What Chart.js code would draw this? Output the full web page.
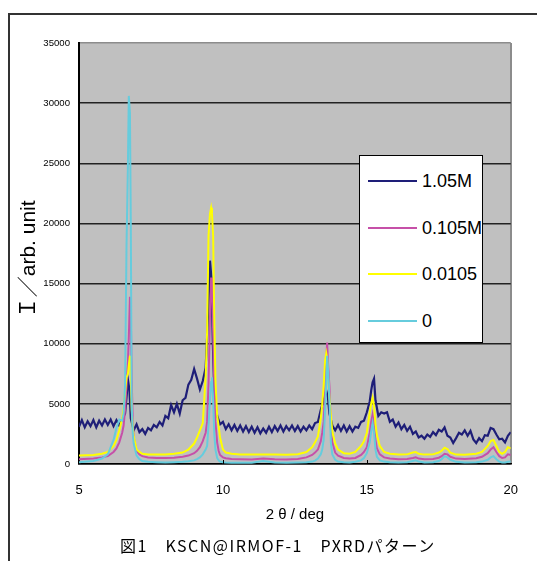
<!DOCTYPE html>
<html lang="ja">
<head>
<meta charset="utf-8">
<title>KSCN@IRMOF-1 PXRD</title>
<script src="https://cdn.jsdelivr.net/npm/chart.js@4/dist/chart.umd.min.js"></script>
<style>
  html, body { margin: 0; padding: 0; background: #fff; overflow: hidden; }
  #wrap { position: relative; width: 537px; height: 561px; overflow: hidden; }
  #frame { position: absolute; left: 8px; top: 13px; width: 700px; height: 700px; border: 2px solid #333; }
  #pxrdChart { position: absolute; left: 0; top: 0; }
  #legend { position: absolute; left: 359px; top: 155px; width: 124px; height: 188px; box-sizing: border-box;
            background: #fff; border: 1px solid #000; }
  .item { position: absolute; left: 8px; height: 20px; }
  .swatch { position: absolute; left: 0; top: 9px; width: 49px; height: 2px; }
  .label { position: absolute; left: 54px; top: 0; line-height: 20px; white-space: nowrap; color: #000;
           font: 18px 'Liberation Sans', Arial, sans-serif; }
  #caption { position: absolute; left: 120px; top: 533px; line-height: 22px; white-space: nowrap; color: #000;
             font: 16px 'Noto Sans CJK JP', sans-serif; letter-spacing: 1.5px; }
</style>
</head>
<body>
<div id="wrap">
  <div id="frame"></div>
  <canvas id="pxrdChart" width="537" height="561"></canvas>
  <div id="legend"></div>
  <div id="caption">図1　KSCN@IRMOF-1　PXRDパターン</div>
</div>
<script>
// series names (legend order)
const seriesLabels = ['1.05M', '0.105M', '0.0105', '0'];

// axis ranges
const xMin = 5, xMax = 20, xStep = 5;
const yMin = 0, yMax = 35000, yStep = 5000;

// 1.05M : noisy scan
const thetaNavy = [
  5.0, 5.1, 5.2, 5.3, 5.4, 5.5, 5.6, 5.7, 5.8, 5.9,
  6.0, 6.1, 6.2, 6.3, 6.4, 6.5, 6.6, 6.65, 6.7, 6.75,
  6.8, 6.9, 7.0, 7.1, 7.2, 7.3, 7.4, 7.5, 7.6, 7.7,
  7.8, 7.9, 8.0, 8.1, 8.2, 8.3, 8.4, 8.5, 8.6, 8.7,
  8.8, 8.9, 9.0, 9.1, 9.2, 9.3, 9.4, 9.45, 9.5, 9.55,
  9.6, 9.65, 9.7, 9.8, 9.9, 10.0, 10.1, 10.2, 10.3, 10.4,
  10.5, 10.6, 10.7, 10.8, 10.9, 11.0, 11.1, 11.2, 11.3, 11.4,
  11.5, 11.6, 11.7, 11.8, 11.9, 12.0, 12.1, 12.2, 12.3, 12.4,
  12.5, 12.6, 12.7, 12.8, 12.9, 13.0, 13.1, 13.2, 13.3, 13.4,
  13.5, 13.55, 13.6, 13.65, 13.7, 13.8, 13.9, 14.0, 14.1, 14.2,
  14.3, 14.4, 14.5, 14.6, 14.7, 14.8, 14.9, 15.0, 15.1, 15.15,
  15.2, 15.25, 15.3, 15.4, 15.5, 15.6, 15.7, 15.8, 15.9, 16.0,
  16.1, 16.2, 16.3, 16.4, 16.5, 16.6, 16.7, 16.8, 16.9, 17.0,
  17.1, 17.2, 17.3, 17.4, 17.5, 17.6, 17.7, 17.8, 17.9, 18.0,
  18.1, 18.2, 18.3, 18.4, 18.5, 18.6, 18.7, 18.8, 18.9, 19.0,
  19.1, 19.2, 19.3, 19.4, 19.5, 19.6, 19.7, 19.8, 19.9, 20.0
];
const intNavy = [
  3100, 3650, 3050, 3550, 3150, 3650, 3050, 3600, 3200, 3700,
  3250, 3700, 3150, 3650, 3200, 3700, 4200, 5500, 7000, 6200,
  3800, 2800, 3300, 2650, 2900, 2500, 3000, 2800, 3250, 3050,
  3500, 3200, 4000, 3800, 4900, 4300, 5000, 4200, 5300, 5500,
  6600, 7000, 7900, 7100, 6200, 6900, 8000, 10500, 13500, 16900,
  15500, 10000, 6000, 4000, 3300, 3500, 2900, 3300, 2800, 3250,
  2750, 3200, 2700, 3150, 2650, 3100, 2600, 3050, 2550, 2950,
  2600, 3100, 2650, 3150, 2750, 3200, 2700, 3150, 2800, 3200,
  2750, 3150, 2700, 3100, 2800, 3200, 2900, 3400, 3500, 4500,
  5300, 5800, 6000, 5500, 4200, 3200, 2800, 3250, 2750, 3200,
  2700, 3150, 2700, 3100, 3000, 3500, 3600, 4300, 5200, 6100,
  6800, 7100, 5300, 4000, 4300, 4200, 4300, 3500, 3700, 3100,
  3450, 2900, 3250, 2750, 3100, 2500, 2700, 2200, 2350, 2100,
  2450, 2250, 2650, 2400, 2850, 2700, 3050, 2350, 2200, 1750,
  2150, 2600, 2450, 2800, 2350, 2750, 2050, 1750, 2150, 1900,
  2400, 2350, 3000, 2900, 2450, 2050, 2100, 1800, 2350, 2650
];

// 0.105M, 0.0105, 0 : smoother scans sharing one angle grid
const thetaPeaks = [
  5.0, 5.5, 5.8, 6.0, 6.2, 6.3, 6.4, 6.5, 6.55, 6.6,
  6.65, 6.7, 6.73, 6.77, 6.8, 6.83, 6.87, 6.9, 7.0, 7.1,
  7.2, 7.4, 7.7, 8.0, 8.3, 8.6, 8.8, 9.0, 9.1, 9.2,
  9.3, 9.4, 9.45, 9.5, 9.55, 9.59, 9.62, 9.66, 9.7, 9.74,
  9.8, 9.85, 9.9, 10.0, 10.1, 10.3, 10.6, 11.0, 11.4, 11.8,
  12.2, 12.6, 12.9, 13.1, 13.2, 13.3, 13.4, 13.45, 13.5, 13.55,
  13.59, 13.62, 13.66, 13.7, 13.75, 13.8, 13.9, 14.0, 14.2, 14.4,
  14.6, 14.8, 14.9, 15.0, 15.1, 15.15, 15.2, 15.25, 15.3, 15.35,
  15.45, 15.6, 15.8, 16.1, 16.4, 16.6, 16.7, 16.8, 17.0, 17.3,
  17.5, 17.6, 17.7, 17.8, 17.9, 18.1, 18.4, 18.8, 19.0, 19.2,
  19.3, 19.4, 19.5, 19.6, 19.7, 19.8, 19.9, 20.0
];
const intMagenta = [
  400, 450, 550, 650, 1000, 1300, 1800, 2600, 3200, 4500,
  6500, 8500, 10500, 13900, 12500, 7000, 3500, 2200, 1100, 800,
  650, 550, 500, 500, 520, 600, 700, 900, 1100, 1400,
  1900, 2600, 3500, 6700, 12200, 15500, 15000, 11000, 6500, 3500,
  1800, 1100, 750, 550, 480, 420, 400, 380, 450, 400,
  380, 420, 550, 750, 950, 1200, 1900, 2600, 3500, 6000,
  8500, 10100, 8000, 6500, 3000, 1800, 950, 700, 500, 450,
  500, 750, 1000, 1400, 2600, 3500, 4100, 3300, 2000, 1300,
  800, 550, 450, 400, 420, 500, 550, 450, 400, 420,
  520, 650, 850, 800, 600, 450, 420, 480, 600, 900,
  1200, 1400, 1000, 650, 500, 550, 800, 750
];
const intYellow = [
  700, 750, 850, 1000, 1500, 2000, 2800, 3800, 4600, 6000,
  7200, 7500, 8200, 9000, 7500, 4500, 3000, 2300, 1200, 1000,
  850, 800, 800, 800, 850, 950, 1200, 1700, 2200, 2800,
  3400, 7200, 11000, 19000, 20800, 21300, 20800, 19000, 12000, 7000,
  4000, 3200, 2200, 1200, 950, 850, 800, 780, 800, 780,
  760, 820, 1000, 1400, 1800, 2300, 3800, 5000, 6500, 8600,
  9200, 8800, 7000, 5500, 4000, 2700, 1700, 1200, 900, 850,
  1000, 1500, 1900, 2600, 4300, 5000, 5500, 4800, 3300, 2400,
  1500, 1000, 850, 780, 800, 950, 1000, 850, 780, 800,
  950, 1100, 1350, 1250, 950, 780, 760, 850, 1000, 1500,
  1900, 2000, 1500, 1000, 850, 1000, 1400, 1300
];
const intCyan = [
  150, 250, 450, 800, 2000, 3000, 3700, 3600, 4200, 6500,
  18000, 25000, 30600, 29200, 20000, 5000, 2500, 1700, 700, 400,
  250, 180, 150, 130, 150, 180, 230, 300, 400, 550,
  800, 1200, 1500, 3200, 5300, 6800, 7200, 5300, 2500, 1200,
  500, 300, 200, 150, 120, 100, 100, 100, 250, 120,
  100, 120, 150, 200, 280, 450, 800, 1200, 2000, 4500,
  6700, 9000, 7500, 5300, 1800, 800, 350, 200, 150, 130,
  180, 300, 500, 900, 1800, 2700, 3400, 2600, 1200, 600,
  300, 200, 150, 130, 150, 250, 300, 200, 130, 150,
  250, 400, 650, 550, 350, 180, 130, 150, 200, 350,
  550, 650, 400, 200, 130, 120, 180, 200
];

function toPoints(xs, ys) {
  return xs.map((x, i) => ({ x: x, y: ys[i] }));
}

// grey plot area
const plotBackground = {
  id: 'plotBackground',
  beforeDraw(chart) {
    const { ctx, chartArea: a } = chart;
    ctx.save();
    ctx.fillStyle = '#c0c0c0';
    ctx.fillRect(a.left, a.top, a.right - a.left, a.bottom - a.top);
    ctx.restore();
  }
};

// short tick marks pointing into the plot on the x axis
const innerTicks = {
  id: 'innerTicks',
  afterDatasetsDraw(chart) {
    const { ctx, chartArea: a, scales: { x } } = chart;
    ctx.save();
    ctx.strokeStyle = '#000';
    ctx.lineWidth = 1;
    x.ticks.forEach(t => {
      if (t.value <= xMin || t.value >= xMax) return;
      const px = Math.round(x.getPixelForValue(t.value)) + 0.5;
      ctx.beginPath();
      ctx.moveTo(px, a.bottom);
      ctx.lineTo(px, a.bottom - 4);
      ctx.stroke();
    });
    ctx.restore();
  }
};

Chart.defaults.font.family = "'Liberation Sans', 'Noto Sans CJK JP', sans-serif";
Chart.defaults.color = '#000';

const chart = new Chart(document.getElementById('pxrdChart'), {
  type: 'line',
  data: {
    datasets: [
      { label: seriesLabels[0], data: toPoints(thetaNavy, intNavy), borderColor: '#1e1e78', borderWidth: 2.2, order: 4 },
      { label: seriesLabels[1], data: toPoints(thetaPeaks, intMagenta), borderColor: '#c650a8', order: 3 },
      { label: seriesLabels[2], data: toPoints(thetaPeaks, intYellow), borderColor: '#ffff00', order: 2 },
      { label: seriesLabels[3], data: toPoints(thetaPeaks, intCyan), borderColor: '#66ccdd', order: 1 }
    ]
  },
  options: {
    responsive: false,
    animation: false,
    elements: {
      point: { radius: 0 },
      line: { borderWidth: 2, tension: 0, fill: false }
    },
    layout: { padding: { top: 43, right: 13, left: 0, bottom: 0 } },
    plugins: {
      legend: { display: false },
      tooltip: { enabled: false }
    },
    scales: {
      x: {
        type: 'linear',
        min: xMin,
        max: xMax,
        ticks: { stepSize: xStep, padding: 19, maxRotation: 0, font: { size: 13 } },
        grid: {
          drawTicks: false,
          lineWidth: 2,
          color: c => (c.tick && c.tick.value === xMax) ? '#8c8c8c' : 'rgba(0,0,0,0)'
        },
        border: { color: '#000', width: 1.5 },
        title: {
          display: true,
          text: '2 θ / deg',
          font: { size: 15 },
          padding: { top: 0, bottom: 37 }
        },
        afterFit: s => { s.height = 97; }
      },
      y: {
        min: yMin,
        max: yMax,
        ticks: { stepSize: yStep, padding: 9, font: { size: 9.6 }, callback: v => String(v) },
        grid: {
          drawTicks: false,
          lineWidth: 1.5,
          color: c => (c.tick && c.tick.value === yMax) ? '#8c8c8c' : '#222'
        },
        border: { color: '#000', width: 2 },
        title: {
          display: true,
          text: 'Ｉ／arb. unit  ',
          font: { size: 21 },
          padding: { top: 17, bottom: 0 }
        },
        afterFit: s => { s.width = 79; }
      }
    }
  },
  plugins: [plotBackground, innerTicks]
});

// -- Legend box (inside the plot, built from the datasets) --
const legendBox = document.getElementById('legend');
chart.data.datasets.forEach((ds, i) => {
  const item = document.createElement('div');
  item.className = 'item';
  item.style.top = (15 + i * 46.7) + 'px';
  const swatch = document.createElement('div');
  swatch.className = 'swatch';
  swatch.style.background = ds.borderColor;
  const label = document.createElement('div');
  label.className = 'label';
  label.textContent = ds.label;
  item.appendChild(swatch);
  item.appendChild(label);
  legendBox.appendChild(item);
});
</script>
</body>
</html>
